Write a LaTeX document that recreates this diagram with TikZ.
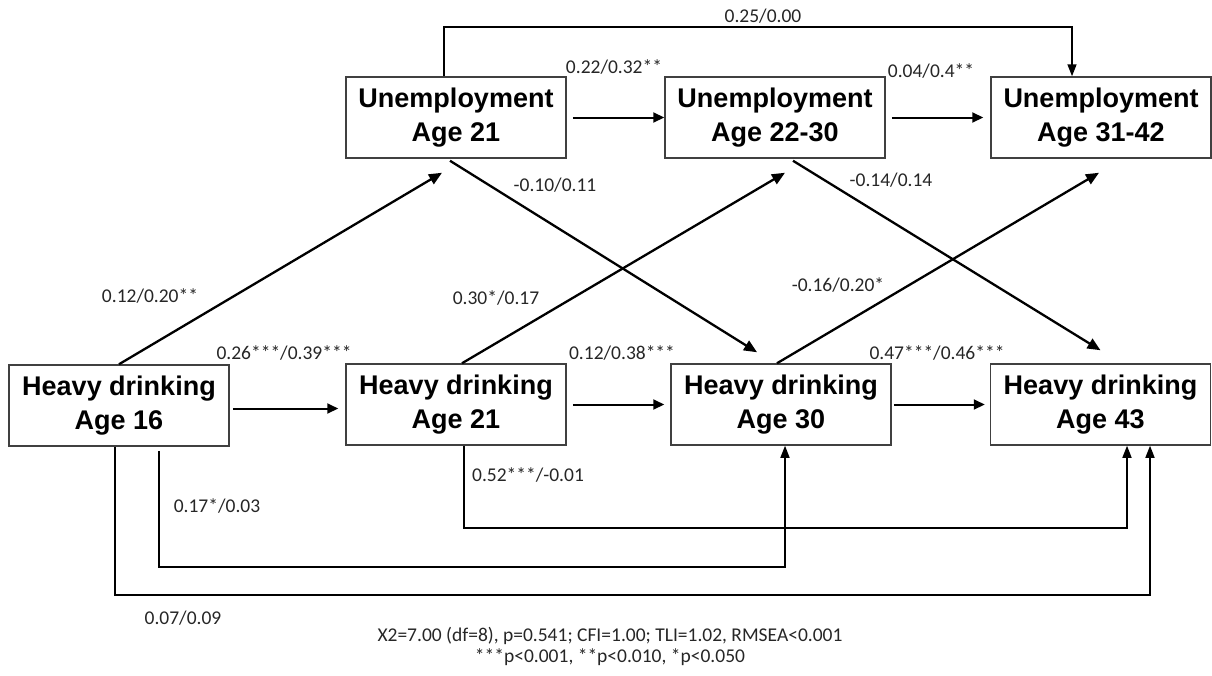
\documentclass[tikz,border=0pt]{standalone}
\usepackage{fontspec}
\setmainfont{Carlito}
\newfontfamily\boxfont{Liberation Sans}
\usetikzlibrary{arrows.meta}
\tikzset{
  var/.style={draw=black!75, line width=1.5pt, rectangle, minimum width=220pt, minimum height=81pt, inner sep=0pt, align=center, font=\boxfont\bfseries\fontsize{27}{34}\selectfont},
  thick arr/.style={line width=2.3pt, -{Triangle[length=13pt,width=11pt]}},
  mid arr/.style={line width=2pt, -{Triangle[length=11pt,width=10pt]}},
  thin arr/.style={line width=1.6pt, -{Triangle[length=12pt,width=9pt]}},
  lab/.style={text=black!85, inner sep=0pt, font=\fontsize{19.5}{23}\selectfont},
}
\begin{document}
\begin{tikzpicture}[x=1pt,y=-1pt]
\useasboundingbox (0,0) rectangle (1212,675);
% variables
\node[var] (u21) at (456,117.5) {Unemployment\\Age 21};
\node[var] (u22) at (775,117.5) {Unemployment\\Age 22-30};
\node[var] (u31) at (1101,117.5) {Unemployment\\Age 31-42};
\node[var] (h16) at (119,405.5) {Heavy drinking\\Age 16};
\node[var] (h21) at (456,404.5) {Heavy drinking\\Age 21};
\node[var] (h30) at (781,404.5) {Heavy drinking\\Age 30};
\node[var] (h43) at (1100.5,404.5) {Heavy drinking\\Age 43};
% horizontal paths
\draw[mid arr] ([xshift=6pt]u21.east) -- (u22.west);
\draw[mid arr] ([xshift=6pt]u22.east) -- ([xshift=-7pt]u31.west);
\draw[mid arr] ([xshift=3pt,yshift=-3pt]h16.east) -- ([xshift=-7pt,yshift=-4pt]h21.west);
\draw[mid arr] ([xshift=6pt]h21.east) -- ([xshift=-6pt]h30.west);
\draw[mid arr] ([xshift=2pt]h30.east) -- ([xshift=-5pt]h43.west);
% top arc
\draw[thin arr] ([xshift=-12pt]u21.north) -- ++(0,-49) -| ([xshift=-29pt]u31.north);
% cross-lagged diagonals
\draw[thick arr] (h16.north) -- ([xshift=-14pt,yshift=-14pt]u21.south);
\draw[thick arr] ([xshift=6pt]h21.north) -- ([xshift=10pt,yshift=-14pt]u22.south);
\draw[thick arr] ([xshift=-4pt]h30.north) -- ([xshift=-2pt,yshift=-14pt]u31.south);
\draw[thick arr] ([xshift=-6pt,yshift=-2pt]u21.south) -- ([xshift=-24pt,yshift=11pt]h30.north);
\draw[thick arr] ([xshift=18pt,yshift=-2pt]u22.south) -- ([yshift=13pt]h43.north);
% bottom paths
\draw[thin arr] ([xshift=-4pt]h16.south) -- ++(0,148.5) -| ([xshift=49.5pt]h43.south);
\draw[thin arr] ([xshift=40pt,yshift=-4pt]h16.south) -- ++(0,116) -| ([xshift=4pt]h30.south);
\draw[thin arr] ([xshift=8pt]h21.south) -- ++(0,82) -| ([xshift=26.5pt]h43.south);
% labels
\node[lab] (l1) at (763,16) {0.25/0.00};
\node[lab] (l2) at (614,67) {0.22/0.32**};
\node[lab] (l3) at (931,71) {0.04/0.4**};
\node[lab] (l4) at (555,185) {-0.10/0.11};
\node[lab] (l5) at (891,180) {-0.14/0.14};
\node[lab] (l6) at (150,296) {0.12/0.20**};
\node[lab] (l7) at (496,298) {0.30*/0.17};
\node[lab] (l8) at (838,285) {-0.16/0.20*};
\node[lab] (l9) at (284,353) {0.26***/0.39***};
\node[lab] (l10) at (622,353) {0.12/0.38***};
\node[lab] (l11) at (937,353) {0.47***/0.46***};
\node[lab] (l12) at (528,475) {0.52***/-0.01};
\node[lab] (l13) at (217,506) {0.17*/0.03};
\node[lab] (l14) at (183,618) {0.07/0.09};
\node[lab] (l15) at (610,636) {X2=7.00 (df=8), p=0.541; CFI=1.00; TLI=1.02, RMSEA<0.001};
\node[lab] (l16) at (610,657) {***p<0.001, **p<0.010, *p<0.050};
\end{tikzpicture}
\end{document}
